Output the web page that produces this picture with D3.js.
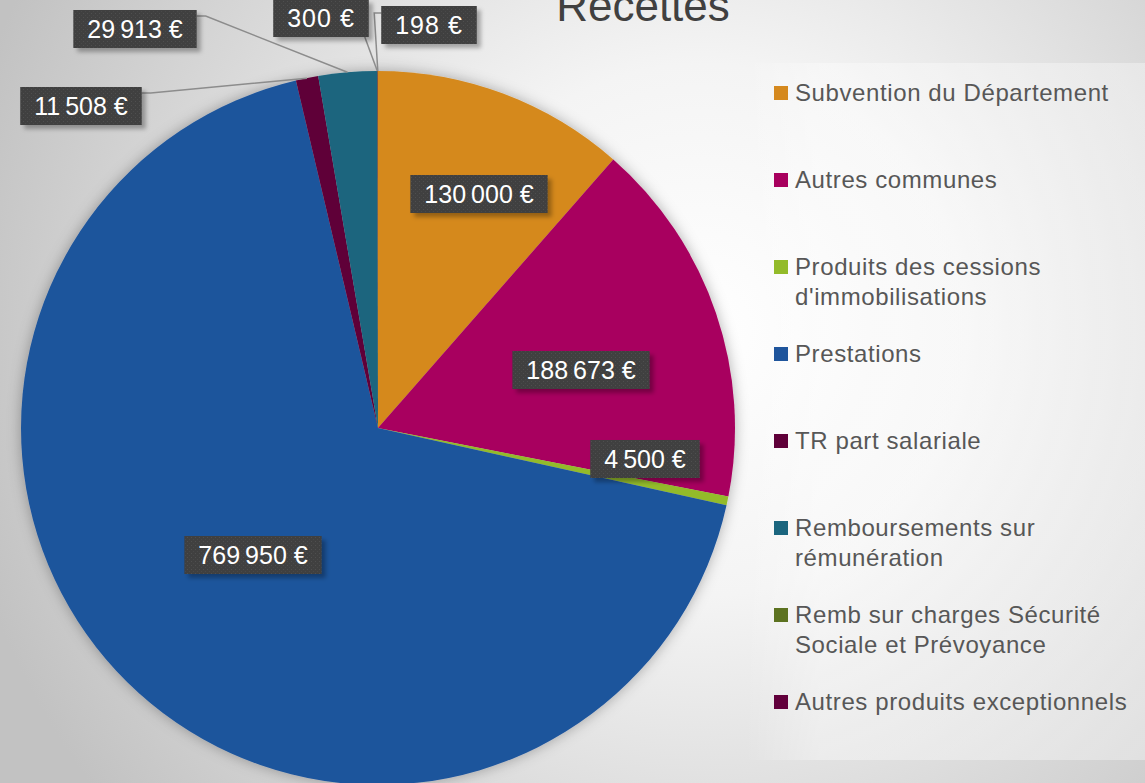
<!DOCTYPE html>
<html>
<head>
<meta charset="utf-8">
<script src="https://cdn.jsdelivr.net/npm/d3@7"></script>
<style>
    html, body { margin: 0; padding: 0; overflow: hidden; background: #d8d8d8; }
    svg { display: block; }
    .legend text { font-family: "Liberation Sans", Arial, sans-serif; font-size: 24px; letter-spacing: 0.6px; fill: #575757; }
    .data-label text { font-family: "Liberation Sans", Arial, sans-serif; font-size: 25px; letter-spacing: 1px; fill: #ffffff; }
</style>
</head>
<body>
<div id="chart-area"></div>
<script>
    // chart data
    const title = "Recettes";
    const categories = [
        "Subvention du Département",
        "Autres communes",
        "Produits des cessions d'immobilisations",
        "Prestations",
        "TR part salariale",
        "Remboursements sur rémunération",
        "Remb sur charges Sécurité Sociale et Prévoyance",
        "Autres produits exceptionnels"
    ];
    const values = [130000, 188673, 4500, 769950, 11508, 29913, 300, 198];
    const colors = ["#d5891e", "#a8005e", "#93bb2a", "#1f559c", "#5f0039", "#1a657e", "#5c7220", "#62003c"];

    // where each data label box sits, relative to the pie centre (dx, dy)
    const labelOffsets = [[101, -234], [203, -58], [267, 31], [-125, 127], [-297, -322], [-243, -399], [-57, -410], [51, -403]];

    const W = 1145, H = 783;
    const CX = 378, CY = 428, R = 357;

    const locale = d3.formatLocale({decimal: ",", thousands: "\u202f", grouping: [3], currency: ["", " €"]});
    const fmt = locale.format("$,.0f");

    const svg = d3.select("#chart-area").append("svg")
        .attr("width", W)
        .attr("height", H);

    const defs = svg.append("defs");

    // background gradient
    const bg = defs.append("radialGradient")
        .attr("id", "bg")
        .attr("gradientUnits", "userSpaceOnUse")
        .attr("cx", 700).attr("cy", 330).attr("r", 760);
    bg.append("stop").attr("offset", 0).attr("stop-color", "#ffffff");
    bg.append("stop").attr("offset", 0.35).attr("stop-color", "#f4f4f4");
    bg.append("stop").attr("offset", 0.7).attr("stop-color", "#d9d9d9");
    bg.append("stop").attr("offset", 1).attr("stop-color", "#c2c2c2");

    const band = defs.append("linearGradient")
        .attr("id", "band")
        .attr("gradientUnits", "userSpaceOnUse")
        .attr("x1", 745).attr("x2", 820).attr("y1", 0).attr("y2", 0);
    band.append("stop").attr("offset", 0).attr("stop-color", "#fff").attr("stop-opacity", 0);
    band.append("stop").attr("offset", 1).attr("stop-color", "#fff").attr("stop-opacity", 0.35);

    const pieShadow = defs.append("filter")
        .attr("id", "pie-shadow")
        .attr("x", "-20%").attr("y", "-20%").attr("width", "140%").attr("height", "140%");
    pieShadow.append("feDropShadow")
        .attr("dx", 0).attr("dy", 0)
        .attr("stdDeviation", 7)
        .attr("flood-color", "#000")
        .attr("flood-opacity", 0.3);

    const boxShadow = defs.append("filter")
        .attr("id", "box-shadow")
        .attr("x", "-20%").attr("y", "-30%").attr("width", "150%").attr("height", "180%");
    boxShadow.append("feDropShadow")
        .attr("dx", 4).attr("dy", 4)
        .attr("stdDeviation", 2)
        .attr("flood-color", "#000")
        .attr("flood-opacity", 0.3);

    // dotted texture of the label boxes
    const dots = defs.append("pattern")
        .attr("id", "dots")
        .attr("patternUnits", "userSpaceOnUse")
        .attr("width", 4).attr("height", 4);
    dots.append("rect").attr("width", 4).attr("height", 4).attr("fill", "#404040");
    dots.append("rect").attr("x", 1).attr("y", 1).attr("width", 1).attr("height", 1).attr("fill", "#505050");
    dots.append("rect").attr("x", 3).attr("y", 3).attr("width", 1).attr("height", 1).attr("fill", "#4a4a4a");

    svg.append("rect").attr("width", W).attr("height", H).attr("fill", "url(#bg)");
    svg.append("rect")
        .attr("x", 745).attr("y", 63)
        .attr("width", W - 745).attr("height", 760 - 63)
        .attr("fill", "url(#band)");

    // title (cut at the top like the original)
    svg.append("text")
        .attr("x", 643).attr("y", 21)
        .attr("text-anchor", "middle")
        .attr("font-family", "Liberation Sans, Arial, sans-serif")
        .attr("font-size", 44)
        .attr("fill", "#404040")
        .text(title);

    // pie
    const pie = d3.pie().sort(null).value(d => d);
    const arc = d3.arc().innerRadius(0).outerRadius(R);
    const arcs = pie(values);

    const graph = svg.append("g")
        .attr("transform", `translate(${CX}, ${CY})`);

    graph.append("g")
        .attr("filter", "url(#pie-shadow)")
        .selectAll("path")
        .data(arcs)
        .enter().append("path")
        .attr("d", arc)
        .attr("fill", (d, i) => colors[i]);

    // data labels
    const labels = graph.append("g").attr("class", "data-label");
    const BOX_H = 38, PAD = 14;

    arcs.forEach((d, i) => {
        const [lx, ly] = labelOffsets[i];
        const g = labels.append("g");
        const txt = g.append("text")
            .attr("x", lx).attr("y", ly + 9)
            .attr("text-anchor", "middle")
            .text(fmt(values[i]));
        const tw = txt.node().getComputedTextLength();
        const bw = tw + 2 * PAD;
        const left = lx - bw / 2, top = ly - BOX_H / 2;

        // leader lines for labels placed outside the pie
        const mid = (d.startAngle + d.endAngle) / 2;
        const ax = R * Math.sin(mid), ay = -R * Math.cos(mid);
        if (Math.hypot(lx, ly) > R) {
            let pts;
            if (left + bw < ax - 20) {
                pts = [[left + bw, top + 6], [left + bw + 9, top + 6], [ax, ay]];
            } else if (left + bw < ax) {
                pts = [[left + bw - 4, top + BOX_H], [ax, ay]];
            } else {
                pts = [[left, top + 7], [left - 7, top + 7], [ax, ay]];
            }
            labels.insert("path", ":first-child")
                .attr("d", d3.line()(pts))
                .attr("fill", "none")
                .attr("stroke", "#8c8c8c")
                .attr("stroke-width", 1.5);
        }

        g.insert("rect", "text")
            .attr("x", left).attr("y", top)
            .attr("width", bw).attr("height", BOX_H)
            .attr("fill", "url(#dots)")
            .attr("filter", "url(#box-shadow)");
    });

    // legend
    const legend = svg.append("g").attr("class", "legend");
    const LEG_X = 774, LEG_Y = 93, LEG_STEP = 87, LINE_H = 30, MAX_W = 350;

    categories.forEach((name, i) => {
        const y = LEG_Y + i * LEG_STEP;
        legend.append("rect")
            .attr("x", LEG_X).attr("y", y - 7)
            .attr("width", 14).attr("height", 14)
            .attr("fill", colors[i]);

        const txt = legend.append("text")
            .attr("x", LEG_X + 21).attr("y", y + 8);

        // simple word wrap
        const words = name.split(" ");
        let line = [];
        let lineNo = 0;
        let tspan = txt.append("tspan").attr("x", LEG_X + 21).attr("y", y + 8);
        words.forEach(w => {
            line.push(w);
            tspan.text(line.join(" "));
            if (tspan.node().getComputedTextLength() > MAX_W && line.length > 1) {
                line.pop();
                tspan.text(line.join(" "));
                line = [w];
                lineNo++;
                tspan = txt.append("tspan")
                    .attr("x", LEG_X + 21)
                    .attr("y", y + 8 + lineNo * LINE_H)
                    .text(w);
            }
        });
    });
</script>
</body>
</html>
